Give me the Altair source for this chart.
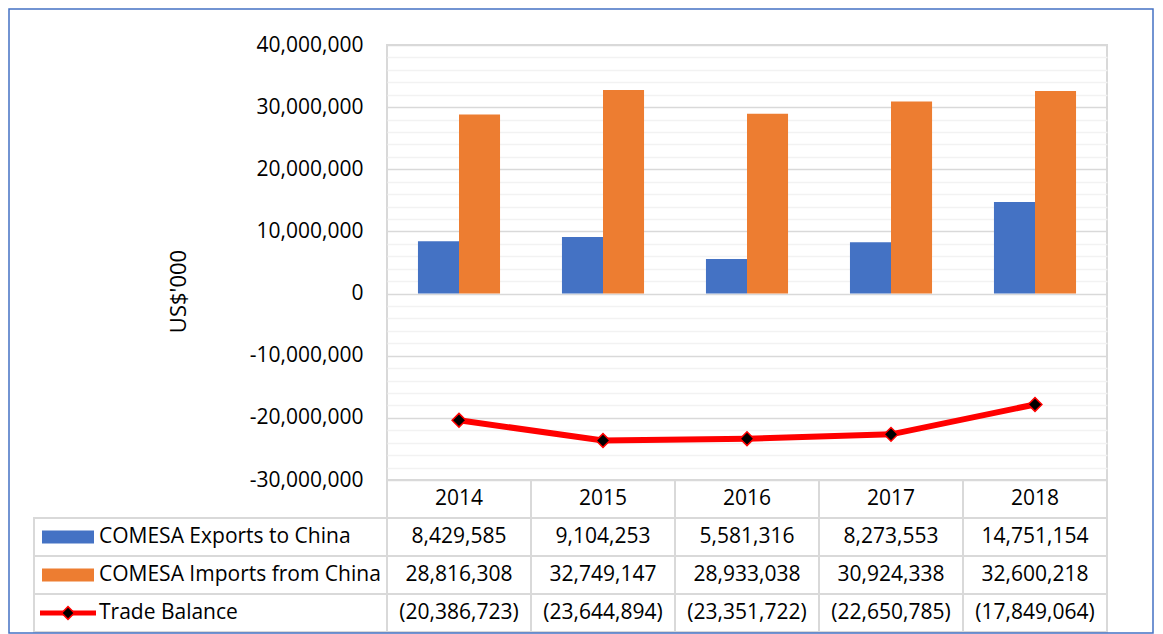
import altair as alt
import pandas as pd

# ---------------- data ----------------
years = ["2014", "2015", "2016", "2017", "2018"]
exports = [8429585, 9104253, 5581316, 8273553, 14751154]
imports = [28816308, 32749147, 28933038, 30924338, 32600218]
balance = [-20386723, -23644894, -23351722, -22650785, -17849064]
series_names = ["COMESA Exports to China", "COMESA Imports from China", "Trade Balance"]
y_major = [-30000000, -20000000, -10000000, 0, 10000000, 20000000, 30000000, 40000000]
y_minor = [v for v in range(-30000000, 40000001, 2000000) if v % 10000000 != 0]
y_title = "US$'000"

# ---------------- styling ----------------
FONT = "Open Sans"
BLUE, ORANGE, RED = "#4472C4", "#ED7D31", "#FF0000"
GRID_MAJOR, GRID_MINOR = "#d9d9d9", "#f2f2f2"
W, H_PLOT, H_TABLE = 720, 435, 152
FS = 21

rows = ["hdr", "exp", "imp", "bal"]

bars_df = pd.DataFrame({
    "year": years * 2,
    "series": [series_names[0]] * len(years) + [series_names[1]] * len(years),
    "value": exports + imports,
})
bal_df = pd.DataFrame({"year": years, "value": balance})


def fmt(v):
    return f"({abs(v):,})" if v < 0 else f"{v:,}"


tab_rows = []
for i, yr in enumerate(years):
    tab_rows.append({"year": yr, "row": "hdr", "label": yr})
    tab_rows.append({"year": yr, "row": "exp", "label": fmt(exports[i])})
    tab_rows.append({"year": yr, "row": "imp", "label": fmt(imports[i])})
    tab_rows.append({"year": yr, "row": "bal", "label": fmt(balance[i])})
table_df = pd.DataFrame(tab_rows)
legend_df = pd.DataFrame({"row": ["exp", "imp", "bal"], "label": series_names})

# ---------------- scales ----------------
y_val = alt.Scale(domain=[-30000000, 40000000], range=[H_PLOT, 0], nice=False, zero=False)
x_bar = alt.Scale(domain=years, paddingInner=0.43, paddingOuter=0.215)
x_tab = alt.Scale(domain=years, paddingInner=0, paddingOuter=0)
y_row = alt.Scale(domain=rows, range=[H_PLOT, H_PLOT + H_TABLE], paddingInner=0, paddingOuter=0)

label_expr = "datum.value < 0 ? '-' + format(-datum.value, ',') : format(datum.value, ',')"

minor = alt.Chart(bal_df).mark_point(opacity=0).encode(
    y=alt.Y("value:Q", scale=y_val,
            axis=alt.Axis(orient="left", values=y_minor, grid=True, gridColor=GRID_MINOR,
                          gridWidth=1.5, labels=False, ticks=False, domain=False, title=None))
)

bars = alt.Chart(bars_df).mark_bar().encode(
    x=alt.X("year:N", scale=x_bar, axis=None),
    xOffset=alt.XOffset("series:N", scale=alt.Scale(domain=series_names[:2], paddingInner=0, paddingOuter=0)),
    y=alt.Y("value:Q", scale=y_val,
            axis=alt.Axis(orient="left", values=y_major, labelExpr=label_expr, grid=True,
                          gridColor=GRID_MAJOR, gridWidth=1.5, domain=False, ticks=False,
                          labelPadding=24, labelFont=FONT, labelFontSize=FS, labelColor="#000000",
                          title=y_title, titleFont=FONT, titleFontSize=22, titleFontWeight="normal",
                          titleColor="#000000", titleAngle=270, titleBaseline="middle",
                          titleX=-209, titleY=246)),
    color=alt.Color("series:N", scale=alt.Scale(domain=series_names[:2], range=[BLUE, ORANGE]), legend=None),
)

cells = alt.Chart(table_df).mark_rect(fill="white", fillOpacity=0, stroke=GRID_MAJOR, strokeWidth=2).encode(
    x=alt.X("year:N", scale=x_tab, axis=None),
    y=alt.Y("row:N", scale=y_row, axis=None),
)

label_cells = alt.Chart(legend_df).mark_rect(fill="white", fillOpacity=0, stroke=GRID_MAJOR, strokeWidth=2).encode(
    x=alt.value(-353), x2=alt.value(0),
    y=alt.Y("row:N", scale=y_row, axis=None),
)

line = alt.Chart(bal_df).mark_line(color=RED, strokeWidth=6).encode(
    x=alt.X("year:N", scale=x_bar, axis=None),
    y=alt.Y("value:Q", scale=y_val, axis=None),
)

pts = alt.Chart(bal_df).mark_point(shape="diamond", filled=True, fill="#000000", stroke=RED,
                                   strokeWidth=1.5, size=190, opacity=1).encode(
    x=alt.X("year:N", scale=x_bar, axis=None),
    y=alt.Y("value:Q", scale=y_val, axis=None),
)

texts = alt.Chart(table_df).mark_text(font=FONT, fontSize=FS, color="#000000", align="center",
                                      baseline="middle").encode(
    x=alt.X("year:N", scale=x_tab, axis=None),
    y=alt.Y("row:N", scale=y_row, axis=None),
    text="label:N",
)

leg_text = alt.Chart(legend_df).mark_text(font=FONT, fontSize=FS, color="#000000", align="left",
                                          baseline="middle").encode(
    x=alt.value(-288),
    y=alt.Y("row:N", scale=y_row, axis=None),
    text="label:N",
)

sw_bar = alt.Chart(legend_df).transform_filter("datum.row != 'bal'").mark_tick(
    orient="horizontal", size=52, thickness=13, opacity=1).encode(
    x=alt.value(-319),
    y=alt.Y("row:N", scale=y_row, axis=None),
    color=alt.Color("row:N", scale=alt.Scale(domain=["exp", "imp"], range=[BLUE, ORANGE]), legend=None),
)

sw_line = alt.Chart(legend_df).transform_filter("datum.row == 'bal'").mark_tick(
    orient="horizontal", size=56, thickness=5, color=RED, opacity=1).encode(
    x=alt.value(-319),
    y=alt.Y("row:N", scale=y_row, axis=None),
)

sw_pt = alt.Chart(legend_df).transform_filter("datum.row == 'bal'").mark_point(
    shape="diamond", filled=True, fill="#000000", stroke=RED, strokeWidth=1.5, size=160, opacity=1).encode(
    x=alt.value(-319),
    y=alt.Y("row:N", scale=y_row, axis=None),
)

frame = alt.Chart(alt.Data(values=[{"k": 1}])).mark_rect(fill="white", fillOpacity=0, stroke=BLUE,
                                                          strokeWidth=1.5).encode(
    x=alt.value(-378), x2=alt.value(766), y=alt.value(-36), y2=alt.value(588),
)

chart = alt.layer(
    minor, bars, cells, label_cells, line, pts, texts, leg_text, sw_bar, sw_line, sw_pt, frame
).resolve_scale(
    x="independent", y="independent", color="independent"
).properties(
    width=W, height=H_PLOT + H_TABLE, padding=0, background="white"
).configure_view(
    stroke=GRID_MAJOR, strokeWidth=2
)

chart.save("out.html", embed_options={"renderer": "svg", "actions": False})
